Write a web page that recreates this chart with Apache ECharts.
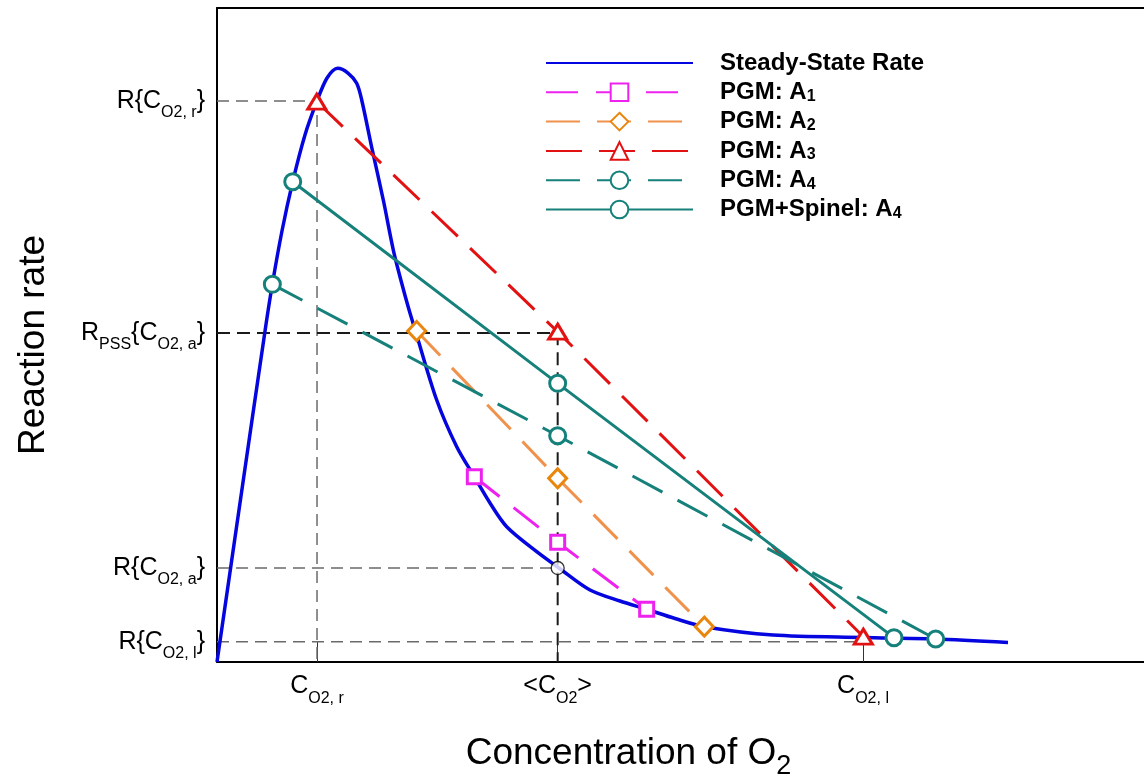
<!DOCTYPE html>
<html>
<head>
<meta charset="utf-8">
<script src="https://cdn.jsdelivr.net/npm/echarts@6/dist/echarts.min.js"></script>
<style>
html,body{margin:0;padding:0;background:#fff;}
#chart{width:1144px;height:780px;}
</style>
</head>
<body>
<div id="chart"></div>
<script>
// ---- data (arbitrary units: x 0..100, y 0..100) ----
const xTickValues = [10.79, 36.75, 69.69];
const xTickLabels = ['C{s|O2, r}', '<C{s|O2}>', 'C{s|O2, l}'];
const yTickValues = [85.78, 50.31, 14.37, 3.10];
const yTickLabels = ['R{C{s|O2, r}}', 'R{s|PSS}{C{s|O2, a}}', 'R{C{s|O2, a}}', 'R{C{s|O2, l}}'];

const steadyX = [0, 2.59, 5.18, 5.97, 7.01, 8.17, 9.49, 10.76, 11.87, 13.02, 14.13, 15.07, 15.61, 16.75, 17.94, 19.02, 19.92, 20.66, 21.47, 23.70, 25.86, 27.76, 29.45, 31.25, 34.49, 36.89, 40.24, 43.47, 46.35, 49.41, 52.57, 59.98, 69.69, 77.45, 85.33];
const steadyY = [0, 25.38, 50.61, 57.75, 65.90, 73.44, 80.58, 85.67, 89.30, 90.78, 90.06, 88.49, 85.93, 78.29, 70.64, 62.99, 57.95, 54.13, 50.31, 40.06, 32.92, 28.33, 24.31, 20.69, 16.87, 14.37, 11.01, 9.33, 8.06, 6.65, 5.40, 4.13, 3.75, 3.52, 2.98];

const a1X = [27.76, 36.75, 46.35];
const a1Y = [28.33, 18.30, 8.06];
const a2X = [21.54, 36.75, 52.57];
const a2Y = [50.61, 28.09, 5.40];
const a3X = [10.76, 36.75, 69.72];
const a3Y = [85.67, 50.50, 3.87];
const a4X = [5.97, 36.75, 77.53];
const a4Y = [57.75, 34.60, 3.52];
const spX = [8.17, 36.75, 73.03];
const spY = [73.44, 42.61, 3.72];

const seriesNames = ['Steady-State Rate', 'PGM: A1', 'PGM: A2', 'PGM: A3', 'PGM: A4', 'PGM+Spinel: A4'];
const xName = 'Concentration of O{s|2}';
const yName = 'Reaction rate';

const zip = (xs, ys) => xs.map((x, i) => [x, ys[i]]);
const FONT = '"Liberation Sans", Arial, sans-serif';

const C_r = xTickValues[0], C_a = xTickValues[1], C_l = xTickValues[2];
const R_r = yTickValues[0], R_pss = yTickValues[1], R_a = yTickValues[2], R_l = yTickValues[3];

function refLine(data, color, width, dash) {
  return {type: 'line', data: data, symbol: 'none', silent: true, z: 1,
    lineStyle: {color: color, width: width, type: dash}, tooltip: {show: false}};
}
function markSeries(name, xs, ys, color, markColor, dash, symbol, size) {
  return {name: name, type: 'line', data: zip(xs, ys), symbol: symbol, symbolSize: size,
    showSymbol: true, z: 3,
    lineStyle: {color: color, width: 3, type: dash},
    itemStyle: {color: '#fff', borderColor: markColor, borderWidth: 3}};
}
const subStyle = {fontSize: 16, color: '#000', fontFamily: FONT, lineHeight: 16, padding: [16.5, 0, 0, 0], verticalAlign: 'top'};

const chart = echarts.init(document.getElementById('chart'), null, {renderer: 'canvas'});
chart.setOption({
  animation: false,
  backgroundColor: '#fff',
  textStyle: {fontFamily: FONT},
  grid: {left: 217, right: 0, top: 8, bottom: 118, containLabel: false, outerBoundsMode: 'none'},
  legend: {
    orient: 'vertical', left: 545, top: 51, padding: 0,
    itemWidth: 147, itemHeight: 22, itemGap: 5.3, selectedMode: false,
    data: [
      {name: seriesNames[0], itemStyle: {opacity: 0}},
      seriesNames[1], seriesNames[2], seriesNames[3], seriesNames[4], seriesNames[5]
    ],
    formatter: function (n) { return n.replace(/A(\d)$/, 'A{s|$1}'); },
    textStyle: {fontSize: 24, fontWeight: 'bold', color: '#000', fontFamily: FONT, lineHeight: 24,
      padding: [0, 0, 0, 22],
      rich: {s: {fontSize: 16, fontWeight: 'bold', color: '#000', fontFamily: FONT, lineHeight: 16,
        padding: [8, 0, 0, 0], verticalAlign: 'top'}}}
  },
  xAxis: [{
    type: 'value', min: 0, max: 100, position: 'bottom',
    name: xName, nameLocation: 'middle', nameGap: 73,
    nameTextStyle: {fontSize: 37, color: '#000', fontFamily: FONT, lineHeight: 37, padding: [0, 104, 0, 0],
      rich: {s: {fontSize: 27, color: '#000', fontFamily: FONT, lineHeight: 27, padding: [18, 0, 0, 0], verticalAlign: 'top'}}},
    splitLine: {show: false},
    axisLine: {show: true, onZero: false, lineStyle: {color: '#000', width: 2}},
    axisTick: {show: true, inside: true, length: 20, customValues: xTickValues, lineStyle: {color: '#333', width: 1}},
    axisLabel: {show: true, customValues: xTickValues, margin: 12, fontSize: 25, lineHeight: 25, color: '#000', fontFamily: FONT,
      formatter: function (v) { const i = xTickValues.indexOf(v); return i >= 0 ? xTickLabels[i] : ''; },
      rich: {s: subStyle}}
  }, {
    type: 'value', min: 0, max: 100, position: 'top',
    splitLine: {show: false}, axisTick: {show: false}, axisLabel: {show: false},
    axisLine: {show: true, onZero: false, lineStyle: {color: '#000', width: 2}}
  }],
  yAxis: {
    type: 'value', min: 0, max: 100,
    name: yName, nameLocation: 'middle', nameGap: 165,
    nameTextStyle: {fontSize: 37, color: '#000', fontFamily: FONT, padding: [0, 20, 0, 0]},
    splitLine: {show: false},
    axisLine: {show: true, onZero: false, lineStyle: {color: '#000', width: 2}},
    axisTick: {show: false},
    axisLabel: {show: true, customValues: yTickValues, margin: 12, fontSize: 25, lineHeight: 25, color: '#000', fontFamily: FONT,
      formatter: function (v) { const i = yTickValues.indexOf(v); return i >= 0 ? yTickLabels[i] : ''; },
      rich: {s: subStyle}}
  },
  series: [
    refLine([[0, R_r], [C_r, R_r], [C_r, 0]], '#6a6a6a', 1.5, [12, 7]),
    refLine([[0, R_a], [C_a, R_a]], '#6a6a6a', 1.5, [12, 7]),
    refLine([[0, R_l], [C_l, R_l]], '#6a6a6a', 1.5, [12, 7]),
    refLine([[0, R_pss], [C_a, R_pss], [C_a, 0]], '#1a1a1a', 2, [13, 7]),
    {name: seriesNames[0], type: 'line', data: zip(steadyX, steadyY), smooth: 0.3, symbol: 'none', z: 2,
      lineStyle: {color: '#0505e0', width: 3.5}, itemStyle: {color: '#0505e0'}},
    markSeries(seriesNames[1], a1X, a1Y, '#ee22ee', '#ee22ee', [32, 18], 'rect', 14),
    markSeries(seriesNames[2], a2X, a2Y, '#f0924c', '#e8860e', [34, 17], 'diamond', [18, 19]),
    markSeries(seriesNames[3], a3X, a3Y, '#e31212', '#e31212', [36, 17], 'triangle', [18, 15]),
    markSeries(seriesNames[4], a4X, a4Y, '#16807a', '#16807a', [34, 17], 'circle', 16),
    markSeries(seriesNames[5], spX, spY, '#16807a', '#16807a', 'solid', 'circle', 16),
    {type: 'scatter', data: [[C_a, R_a]], symbol: 'circle', symbolSize: 13, z: 4, silent: true,
      itemStyle: {color: '#fff', borderColor: '#000', borderWidth: 1.3}}
  ]
});
</script>
</body>
</html>
